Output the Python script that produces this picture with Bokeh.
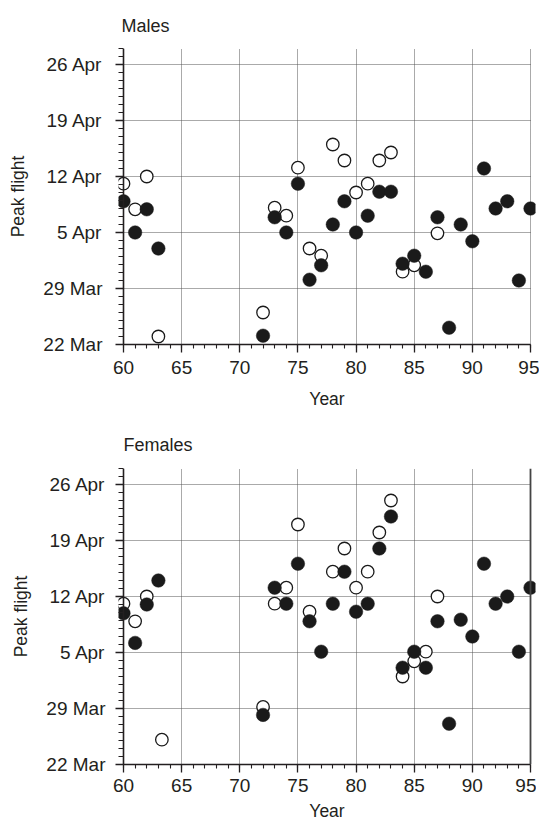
from bokeh.plotting import figure
from bokeh.models import Range1d, FixedTicker, Span
from bokeh.layouts import column
from bokeh.embed import file_html
from bokeh.resources import INLINE

# ---- data (day 0 = 22 Mar) ----
year_ticks = [60, 65, 70, 75, 80, 85, 90, 95]
day_ticks = [0, 7, 14, 21, 28, 35]
day_labels = ["22 Mar", "29 Mar", "5 Apr", "12 Apr", "19 Apr", "26 Apr"]

male_open_year = [60, 61, 62, 63, 72, 73, 74, 75, 76, 77, 78, 79, 80, 81, 82, 83, 84, 85, 87]
male_open_day = [20.1, 16.9, 21.0, 1.0, 4.0, 17.1, 16.1, 22.1, 12.0, 11.1, 25.0, 23.0,
                 19.0, 20.1, 23.0, 24.0, 9.1, 9.9, 13.9]

male_filled_year = [60, 61, 62, 63, 72, 73, 74, 75, 76, 77, 78, 79, 80, 81, 82, 83, 84,
                    85, 86, 87, 88, 89, 90, 91, 92, 93, 94, 95]
male_filled_day = [17.9, 14.0, 16.9, 12.0, 1.1, 15.9, 14.0, 20.1, 8.1, 9.9, 15.0, 17.9,
                   14.0, 16.1, 19.1, 19.1, 10.1, 11.1, 9.1, 15.9, 2.1, 15.0, 12.9, 22.0,
                   17.0, 17.9, 8.0, 17.0]

female_open_year = [60, 61, 62, 63.3, 72, 73, 74, 75, 76, 78, 79, 80, 81, 82, 83, 84, 85, 86, 87]
female_open_day = [20.1, 17.9, 21.0, 3.1, 7.2, 20.1, 22.1, 30.0, 19.1, 24.1, 27.0, 22.1,
                   24.1, 29.0, 33.0, 11.0, 12.9, 14.1, 21.0]

female_filled_year = [60, 61, 62, 63, 72, 73, 74, 75, 76, 77, 78, 79, 80, 81, 82, 83, 84,
                      85, 86, 87, 88, 89, 90, 91, 92, 93, 94, 95]
female_filled_day = [18.9, 15.2, 20.0, 23.0, 6.2, 22.1, 20.1, 25.1, 17.9, 14.1, 20.1, 24.1,
                     19.1, 20.1, 27.0, 31.0, 12.1, 14.1, 12.1, 17.9, 5.1, 18.1, 16.0, 25.1,
                     20.1, 21.0, 14.1, 22.1]

FONT = "Liberation Sans"
INK = "#231f20"
GRID = "#555555"


def make_panel(title, ox, oy, fx, fy, left_border, label_standoff, top_border,
               bottom_border, title_standoff, title_offset, x_label_standoff,
               x_axis_label_standoff, right_line):
    p = figure(frame_width=417, frame_height=296,
               x_range=Range1d(59.57, 95.43), y_range=Range1d(0, 37),
               output_backend="svg", toolbar_location=None,
               min_border_left=left_border, min_border_right=4,
               min_border_top=top_border, min_border_bottom=bottom_border)
    p.outline_line_color = None
    p.background_fill_color = "white"
    p.border_fill_color = "white"

    p.title.text = title
    p.title.text_font = FONT
    p.title.text_font_size = "18px"
    p.title.text_font_style = "normal"
    p.title.text_color = INK
    p.title.align = "left"
    p.title.offset = title_offset
    p.title.standoff = title_standoff

    # grid
    p.ygrid.visible = False
    p.xgrid.ticker = FixedTicker(ticks=year_ticks[1:])
    p.xgrid.grid_line_color = GRID
    p.xgrid.grid_line_dash = "1 1"
    p.xgrid.grid_line_width = 1
    p.segment(x0=year_ticks[0], x1=year_ticks[-1], y0=day_ticks[1:], y1=day_ticks[1:],
              line_color=GRID, line_dash="1 1", line_width=1)

    # y axis line placed at year 60
    p.add_layout(Span(location=year_ticks[0], dimension="height",
                      line_color=INK, line_width=1.6))
    if right_line:
        p.add_layout(Span(location=year_ticks[-1], dimension="height",
                          line_color="#444444", line_width=1.8))

    # axes
    for ax in (p.xaxis[0], p.yaxis[0]):
        ax.axis_line_color = INK
        ax.axis_line_width = 1.6
        ax.major_tick_line_color = INK
        ax.minor_tick_line_color = INK
        ax.major_tick_line_width = 1.3
        ax.minor_tick_line_width = 1.1
        ax.major_label_text_font = FONT
        ax.major_label_text_font_size = "19px"
        ax.major_label_text_color = INK
        ax.axis_label_text_font = FONT
        ax.axis_label_text_font_size = "17.5px"
        ax.axis_label_text_font_style = "normal"
        ax.axis_label_text_color = INK

    xa = p.xaxis[0]
    xa.ticker = FixedTicker(ticks=year_ticks, minor_ticks=list(range(60, 96)))
    xa.bounds = (60, 95)
    xa.major_tick_in = 0
    xa.minor_tick_in = 0
    xa.major_tick_out = 8
    xa.minor_tick_out = 4
    xa.axis_label = "Year"
    xa.major_label_standoff = x_label_standoff
    xa.axis_label_standoff = x_axis_label_standoff

    ya = p.yaxis[0]
    ya.ticker = FixedTicker(ticks=day_ticks, minor_ticks=list(range(0, 38)))
    ya.major_label_overrides = {t: l for t, l in zip(day_ticks, day_labels)}
    ya.axis_line_color = None
    ya.major_tick_out = 3
    ya.major_tick_in = 5
    ya.minor_tick_out = 0
    ya.minor_tick_in = 5
    ya.axis_label = "Peak flight"
    ya.major_label_standoff = label_standoff
    ya.axis_label_standoff = 12

    p.scatter(ox, oy, marker="circle", size=12.5, fill_color="white",
              line_color="#1a1a1a", line_width=1.3)
    p.scatter(fx, fy, marker="circle", size=13.5, fill_color="#1a1a1a",
              line_color="#1a1a1a", line_width=0.5)
    return p


p1 = make_panel("Males", male_open_year, male_open_day, male_filled_year, male_filled_day,
                left_border=118, label_standoff=13, top_border=46, bottom_border=67,
                title_standoff=26, title_offset=3, x_label_standoff=8,
                x_axis_label_standoff=12, right_line=False)
p2 = make_panel("Females", female_open_year, female_open_day, female_filled_year,
                female_filled_day, left_border=115, label_standoff=10, top_border=57,
                bottom_border=59, title_standoff=27, title_offset=5, x_label_standoff=6,
                x_axis_label_standoff=6, right_line=True)

layout = column(p1, p2, spacing=0)
open("out.html", "w").write(file_html(layout, INLINE))
